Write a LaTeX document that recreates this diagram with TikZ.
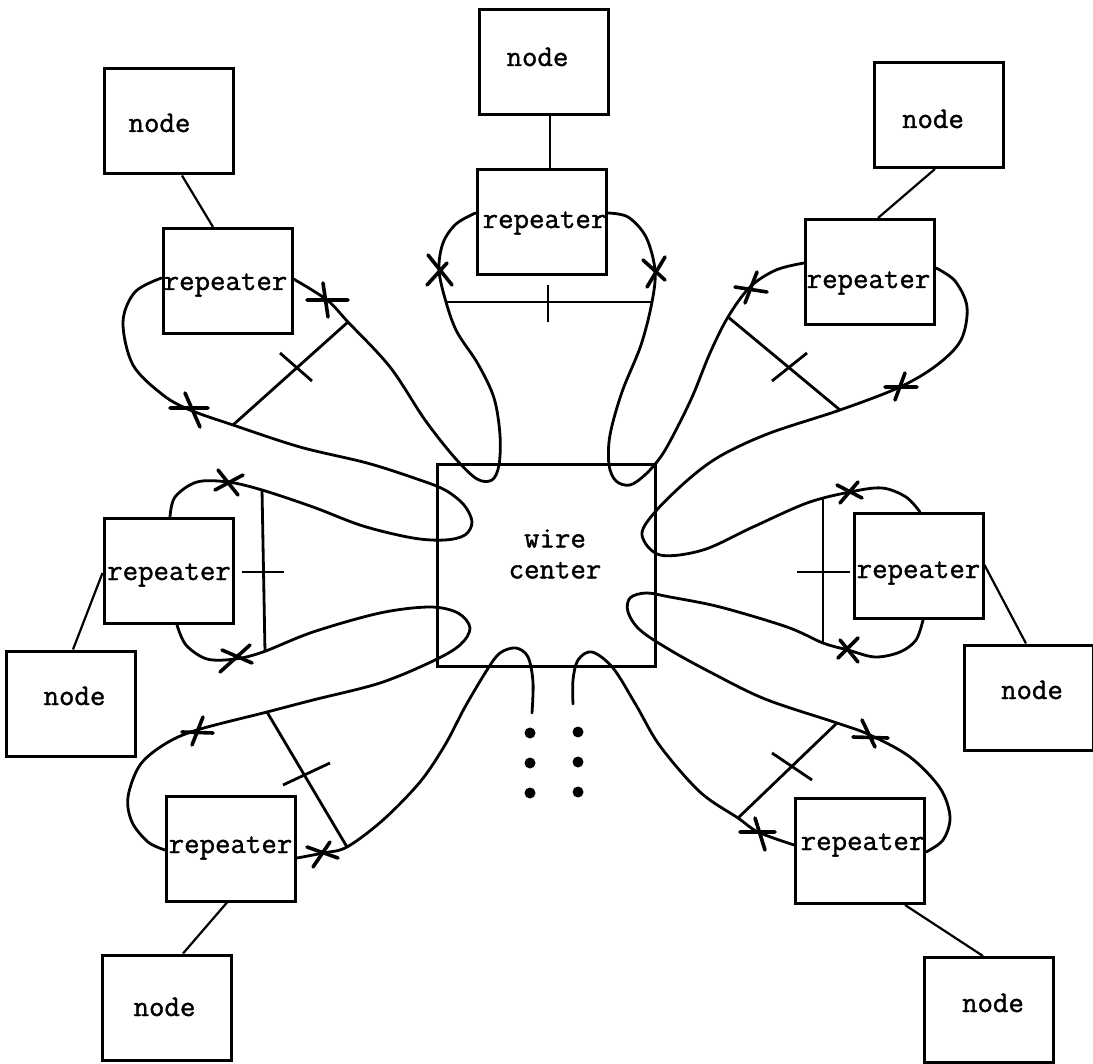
\documentclass[tikz,border=0pt]{standalone}
\usepackage{fontspec}
\newfontfamily\twfont{Latin Modern Mono}[FakeBold=1.2]
\begin{document}
\begin{tikzpicture}[x=1pt,y=-1pt,
  box/.style={draw, line width=3pt, minimum width=129pt, minimum height=105pt, inner sep=0pt},
  lbl/.style={font=\fontsize{30}{31}\selectfont\twfont, inner sep=0pt, anchor=base},
  wire/.style={line width=2.8pt, line join=round, line cap=round},
  link/.style={line width=2.2pt},
  bar/.style={line width=2.8pt},
  xmark/.style={line width=3.6pt, line cap=round},
  dotmark/.style={fill=black}
]
\path[use as bounding box] (0,0) rectangle (1093,1064);

% wire center
\node[box, minimum width=218pt, minimum height=201pt] (wc) at (546,565.5) {};
\node[font=\fontsize{30}{31}\selectfont\twfont, inner sep=0pt, align=center] (wctext) at (555,554) {wire\\center};

% node boxes
\node[box] (topnode) at (544,62.5) {};
\node[box] (ulnode) at (168.5,121.5) {};
\node[box] (urnode) at (939,115) {};
\node[box] (lnode) at (71,703.5) {};
\node[box] (rnode) at (1028.5,697.5) {};
\node[box] (blnode) at (166.5,1007.5) {};
\node[box] (brnode) at (988.5,1010) {};
% repeater boxes
\node[box] (toprep) at (541.5,222) {};
\node[box] (ulrep) at (227.5,281) {};
\node[box] (urrep) at (870,272) {};
\node[box] (lrep) at (168.5,571) {};
\node[box] (rrep) at (918.5,566) {};
\node[box] (blrep) at (231,848.5) {};
\node[box] (brrep) at (860,851) {};

% labels
\node[lbl] (t-topnode) at (537.5,66) {node};
\node[lbl] (t-ulnode) at (159.5,132) {node};
\node[lbl] (t-urnode) at (933,128) {node};
\node[lbl] (t-lnode) at (74.5,705) {node};
\node[lbl] (t-rnode) at (1032,699) {node};
\node[lbl] (t-blnode) at (164.5,1016) {node};
\node[lbl] (t-brnode) at (993,1012) {node};
\node[lbl] (t-toprep) at (544.5,228) {repeater};
\node[lbl] (t-ulrep) at (225.5,290) {repeater};
\node[lbl] (t-urrep) at (868.5,288) {repeater};
\node[lbl] (t-lrep) at (169,580) {repeater};
\node[lbl] (t-rrep) at (918.5,578) {repeater};
\node[lbl] (t-blrep) at (230.5,853) {repeater};
\node[lbl] (t-brrep) at (862.5,850) {repeater};

% node-repeater links
\draw[link] ([xshift=6pt]topnode.south) -- ([xshift=8.5pt]toprep.north);
\draw[link] ([xshift=13.5pt]ulnode.south) -- ([xshift=-14.5pt]ulrep.north);
\draw[link] ([xshift=-4pt]urnode.south) -- ([xshift=8pt]urrep.north);
\draw[link] ([xshift=2pt]lnode.north) -- ([yshift=-2pt]lrep.west);
\draw[link] ([xshift=-2.5pt]rnode.north) -- ([yshift=1pt]rrep.east);
\draw[link] ([xshift=16.5pt]blnode.north) -- ([xshift=-4pt]blrep.south);
\draw[link] ([xshift=-5.5pt]brnode.north) -- ([xshift=45pt]brrep.south);

% wire end points at repeaters
\coordinate (tr-w) at ([yshift=9pt]toprep.west);
\coordinate (tr-e) at ([yshift=9pt]toprep.east);
\coordinate (ul-w) at ([yshift=3pt]ulrep.west);
\coordinate (ul-e) at ([yshift=2pt]ulrep.east);
\coordinate (ur-w) at ([yshift=9pt]urrep.west);
\coordinate (ur-e) at ([yshift=4pt]urrep.east);
\coordinate (l-n) at ([xshift=1.5pt]lrep.north);
\coordinate (l-s) at ([xshift=8.5pt]lrep.south);
\coordinate (r-n) at ([xshift=1.5pt]rrep.north);
\coordinate (r-s) at ([xshift=4.5pt]rrep.south);
\coordinate (bl-w) at ([yshift=-1.5pt]blrep.west);
\coordinate (bl-e) at ([yshift=-9.5pt]blrep.east);
\coordinate (br-w) at ([yshift=6pt]brrep.west);
\coordinate (br-e) at ([yshift=-1pt]brrep.east);
\coordinate (dangleL) at (532,713);
\coordinate (dangleR) at (573,704);

% ring wire segments
\draw[wire] plot[smooth, tension=0.55] coordinates {(dangleL) (533,682) (528,657) (516,648) (500,653) (487,670) (465,707) (445,745) (420,782) (383,820) (347,847) (323,853) (bl-e)};
\draw[wire] plot[smooth, tension=0.55] coordinates {(bl-w) (148,842) (132,822) (128,797) (140,765) (165,744) (197,730) (267,712) (313,700) (380,683) (433,661) (460,645) (470,628) (458,613) (430,607) (380,613) (313,632) (263,652) (235,659) (207,659) (186,645) (l-s)};
\draw[wire] plot[smooth, tension=0.55] coordinates {(l-n) (175,497) (197,482) (228,482) (262,490) (313,507) (363,526) (413,538) (445,540) (465,535) (472,522) (464,505) (445,490) (417,479) (367,463) (300,447) (233,425) (190,410) (163,395) (133,365) (123,322) (135,292) (ul-w)};
\draw[wire] plot[smooth, tension=0.55] coordinates {(ul-e) (327,300) (348,322) (390,367) (425,420) (455,458) (477,479) (492,480) (499,465) (500,435) (494,398) (478,364) (457,332) (446,302) (439,270) (443,243) (456,224) (tr-w)};
\draw[wire] plot[smooth, tension=0.55] coordinates {(tr-e) (628,217) (646,237) (655,270) (652,302) (641,345) (622,392) (610,435) (609,465) (616,481) (630,485) (646,474) (662,455) (677,428) (693,395) (710,353) (728,317) (750,287) (776,270) (ur-w)};
\draw[wire] plot[smooth, tension=0.55] coordinates {(ur-e) (955,281) (967,307) (961,340) (937,365) (900,387) (840,410) (770,433) (722,455) (690,478) (655,512) (642,535) (660,555) (703,550) (753,527) (807,503) (850,492) (882,488) (906,497) (r-n)};
\draw[wire] plot[smooth, tension=0.55] coordinates {(r-s) (916,640) (900,652) (875,657) (848,650) (823,643) (787,627) (720,607) (670,597) (646,593) (630,598) (628,612) (640,630) (670,650) (710,672) (765,699) (837,723) (870,735) (910,757) (940,788) (950,817) (943,840) (br-e)};
\draw[wire] plot[smooth, tension=0.55] coordinates {(br-w) (758,832) (738,818) (700,792) (660,746) (636,705) (613,668) (592,652) (578,660) (573,680) (dangleR)};

% crossbars and ticks
\draw[bar] (267,712) -- (347,847);  \draw[bar] (283,785) -- (330,763);
\draw[bar] (262,489) -- (265,652);  \draw[bar] (242,572) -- (284,572);
\draw[bar] (233,425) -- (348,322);  \draw[bar] (280,353) -- (312,381);
\draw[bar] (446,302) -- (652,302);  \draw[bar] (548,285) -- (548,322);
\draw[bar] (728,317) -- (840,410);  \draw[bar] (772,381) -- (807,353);
\draw[bar] (823,497) -- (823,643);  \draw[bar] (797,572) -- (850,572);
\draw[bar] (837,723) -- (738,818);  \draw[bar] (772,753) -- (812,780);

% X marks
\draw[xmark] (307,300) -- (348,300) (323,283) -- (328,317);
\draw[xmark] (170,408) -- (208,408) (185,393) -- (200,427);
\draw[xmark] (428,255) -- (452,285) (427,285) -- (447,263);
\draw[xmark] (643,260) -- (665,280) (647,287) -- (665,257);
\draw[xmark] (735,287) -- (767,292) (757,272) -- (745,303);
\draw[xmark] (885,387) -- (917,387) (905,373) -- (895,400);
\draw[xmark] (215,490) -- (243,475) (218,470) -- (238,495);
\draw[xmark] (220,672) -- (250,645) (222,650) -- (252,663);
\draw[xmark] (837,485) -- (862,498) (840,503) -- (858,482);
\draw[xmark] (838,658) -- (858,638) (840,640) -- (858,662);
\draw[xmark] (182,732) -- (213,733) (203,717) -- (192,745);
\draw[xmark] (307,847) -- (338,858) (330,842) -- (313,867);
\draw[xmark] (853,737) -- (888,738) (862,720) -- (875,747);
\draw[xmark] (740,832) -- (775,832) (755,818) -- (765,850);

% continuation dots
\foreach \yy in {733,763,793} {\fill[dotmark] (530,\yy) circle (5.5pt);}
\foreach \yy in {732,762,792} {\fill[dotmark] (578,\yy) circle (5.5pt);}
\end{tikzpicture}
\end{document}
